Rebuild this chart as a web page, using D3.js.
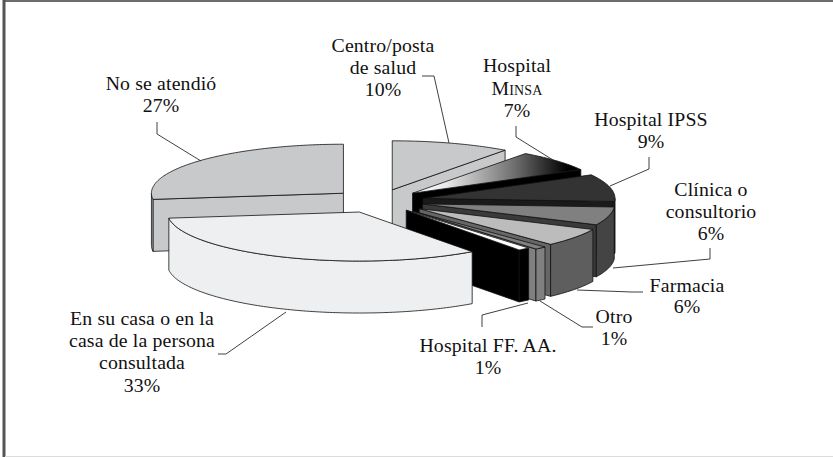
<!DOCTYPE html>
<html lang="es">
<head>
<meta charset="utf-8">
<script src="https://cdn.jsdelivr.net/npm/d3@7/dist/d3.min.js"></script>
<style>
  html, body { margin: 0; padding: 0; background: #fff; }
  svg { display: block; }
  text { font-family: "Liberation Serif", serif; font-size: 19.8px; letter-spacing: 0.15px; fill: #111; text-anchor: middle; }
</style>
</head>
<body>
<svg id="chart" width="833" height="457"></svg>
<script>
// Porcentajes por lugar de atención, en sentido horario desde las 12
const categories = ["Centro/posta de salud", "Hospital Minsa", "Hospital IPSS", "Clínica o consultorio",
  "Farmacia", "Otro", "Hospital FF. AA.", "En su casa o en la casa de la persona consultada", "No se atendió"];
const shares = [10, 7, 9, 6, 6, 1, 1, 33, 27];

// Cara superior, corte visible y borde exterior de cada porción
const topFills = ["#c8c9cb", "url(#minsaTop)", "#333333", "#808080", "#bcbcbc", "#808080", "#ffffff", "#eeeff1", "#c8c9cb"];
const wallFills = ["#c8c9cb", "#000000", "#1a1a1a", "#3a3a3a", "#666666", "#808080", "#000000", "#eeeff1", "#c8c9cb"];
const rimFills = ["#c8c9cb", "#000000", "#333333", "#444444", "#5e5e5e", "#808080", "#000000", "#eeeff1", "#c8c9cb"];

// Separación radial de cada porción, como fracción del radio
const explode = [0.24, 0.24, 0.24, 0.24, 0.265, 0.28, 0.24, 0.245, 0.24];
// De atrás hacia adelante
const paintOrder = [8, 0, 1, 2, 3, 4, 5, 6, 7];

// Rótulos: líneas de texto con su línea de base, y la guía hasta la porción
const labelLines = [
  [["Centro/posta", 383, 52], ["de salud", 383, 74], ["10%", 383, 96]],
  [["Hospital", 517, 72], ["Minsa", 517, 95, true], ["7%", 517, 117]],
  [["Hospital IPSS", 651, 126], ["9%", 651, 148]],
  [["Clínica o", 711, 196], ["consultorio", 711, 218], ["6%", 711, 240]],
  [["Farmacia", 687, 292], ["6%", 687, 313]],
  [["Otro", 614, 323], ["1%", 614, 345]],
  [["Hospital FF. AA.", 488, 352], ["1%", 488, 374]],
  [["En su casa o en la", 142, 325], ["casa de la persona", 142, 347], ["consultada", 142, 369], ["33%", 142, 392]],
  [["No se atendió", 161, 90], ["27%", 161, 112]]
];
const leaders = [
  [[422, 76], [434, 76], [449, 143]],
  [[516, 126], [516, 137], [553, 160]],
  [[649, 157], [649, 169], [610, 186]],
  [[710, 248], [710, 259], [613, 268]],
  [[643, 292], [632, 292], [577, 290]],
  [[593, 327], [582, 327], [540, 301]],
  [[482, 327], [482, 315], [528, 303]],
  [[218, 354], [226, 354], [286, 312]],
  [[157, 122], [157, 134], [201, 161]]
];

const svg = d3.select("#chart");
const depth = 52;

// Proyección elíptica del disco unidad
const px = d3.scaleLinear().domain([-1, 1]).range([378 - 192, 378 + 192]);
const py = d3.scaleLinear().domain([-1, 1]).range([201 - 49, 201 + 49]);

const slices = d3.pie().sort(null).value(d => d)(shares);
const TAU = 2 * Math.PI, STEP = TAU / 360;

const defs = svg.append("defs");
const grad = defs.append("linearGradient").attr("id", "minsaTop");
grad.append("stop").attr("offset", "0%").attr("stop-color", "#ffffff");
grad.append("stop").attr("offset", "20%").attr("stop-color", "#e8e8e8");
grad.append("stop").attr("offset", "60%").attr("stop-color", "#707070");
grad.append("stop").attr("offset", "92%").attr("stop-color", "#000000");
grad.append("stop").attr("offset", "100%").attr("stop-color", "#000000");

// Marco de la figura
svg.append("line").attr("x1", 4).attr("x2", 833).attr("y1", 1).attr("y2", 1).attr("stroke", "#3c3c3c").attr("stroke-width", 1.6);
svg.append("line").attr("x1", 4).attr("x2", 4).attr("y1", 0).attr("y2", 457).attr("stroke", "#555").attr("stroke-width", 3);
svg.append("line").attr("x1", 5).attr("x2", 833).attr("y1", 456.5).attr("y2", 456.5).attr("stroke", "#dcdcdc");

const path = d3.line();
const pie3d = svg.append("g").attr("stroke", "#111").attr("stroke-width", 0.8).attr("stroke-linejoin", "round");

paintOrder.forEach(i => {
  const s = slices[i];
  const mid = (s.startAngle + s.endAngle) / 2;
  const ox = explode[i] * Math.sin(mid), oy = -explode[i] * Math.cos(mid);
  const at = (a, r = 1, dz = 0) => [px(ox + r * Math.sin(a)), py(oy - r * Math.cos(a)) + dz];
  const apex = at(0, 0);
  const angles = (a0, a1) => d3.range(a0, a1, STEP).concat([a1]);

  // Corte radial que mira al observador
  const wall = a => path([apex, at(a), at(a, 1, depth), at(0, 0, depth)]) + "Z";
  if (Math.sin(s.startAngle) < -1e-6) pie3d.append("path").attr("d", wall(s.startAngle)).attr("fill", wallFills[i]);
  if (Math.sin(s.endAngle) > 1e-6) pie3d.append("path").attr("d", wall(s.endAngle)).attr("fill", wallFills[i]);

  // Borde exterior visible, entre 90° y 270°
  const a0 = Math.max(s.startAngle, TAU / 4), a1 = Math.min(s.endAngle, 3 * TAU / 4);
  if (a1 > a0) {
    const upper = angles(a0, a1).map(a => at(a));
    const lower = angles(a0, a1).reverse().map(a => at(a, 1, depth));
    pie3d.append("path").attr("d", path(upper.concat(lower)) + "Z").attr("fill", rimFills[i]);
  }

  // Cara superior
  const face = [apex].concat(angles(s.startAngle, s.endAngle).map(a => at(a)));
  pie3d.append("path").attr("d", path(face) + "Z").attr("fill", topFills[i]);
});

// Guías
svg.append("g").selectAll("path").data(leaders).join("path")
  .attr("d", d => path(d)).attr("fill", "none").attr("stroke", "#2a2a2a").attr("stroke-width", 0.9);

// Rótulos
svg.append("g").selectAll("g").data(labelLines).join("g")
  .selectAll("text").data(d => d).join("text")
  .attr("x", d => d[1]).attr("y", d => d[2])
  .style("font-variant", d => d[3] ? "small-caps" : null)
  .text(d => d[0]);
</script>
</body>
</html>
